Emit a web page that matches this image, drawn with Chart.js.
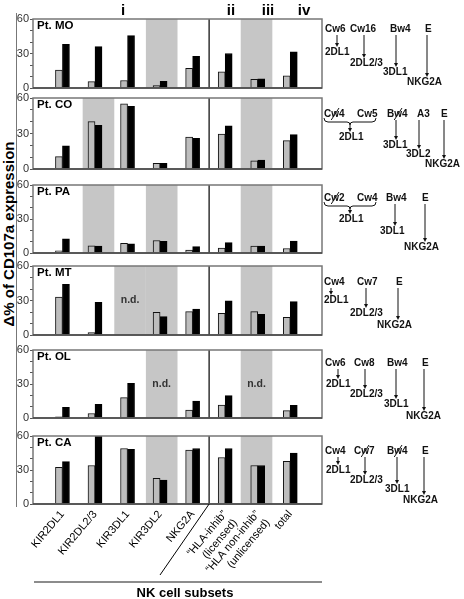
<!DOCTYPE html>
<html>
<head>
<meta charset="utf-8">
<script src="https://cdn.jsdelivr.net/npm/chart.js@4.4.1/dist/chart.umd.min.js"></script>
<style>
    html, body { margin: 0; padding: 0; background: #fff; }
    #wrap { position: relative; width: 464px; height: 599px; overflow: hidden; font-family: "Liberation Sans", Arial, sans-serif; }
    #wrap canvas { position: absolute; left: 0; }
    .grp { position: absolute; top: 1px; font-weight: bold; font-size: 15px; transform: translateX(-50%); }
    #ytitle { position: absolute; left: 8px; top: 234px; font-weight: bold; font-size: 15px; white-space: nowrap;
              transform: translate(-50%, -50%) rotate(-90deg); }
    #yline { position: absolute; left: 16px; top: 13px; width: 0; height: 494px; border-left: 1.5px solid #777; }
</style>
</head>
<body>
<div id="wrap">
    <div id="yline"></div>
    <div id="ytitle">&Delta;% of CD107a expression</div>
</div>
<script>
// NK cell subsets on the x axis
const subsets = ['KIR2DL1', 'KIR2DL2/3', 'KIR3DL1', 'KIR3DL2', 'NKG2A',
    ['\u201CHLA-inhib\u201D', '(licensed)'], ['\u201CHLA non-inhib\u201D', '(unlicensed)'], 'total'];
const patients = ['Pt. MO', 'Pt. CO', 'Pt. PA', 'Pt. MT', 'Pt. OL', 'Pt. CA'];
const groups = ['i', 'ii', 'iii', 'iv'];
const yLabels = [0, 30, 60];

// grey (open) bar and black bar per subset, null = n.d.
const moGrey  = [15.5, 5.5, 6.5, 2, 17, 14, 7.5, 10.5];
const moBlack = [38, 36, 45.5, 5.8, 27.5, 30, 8, 31.5];
const coGrey  = [10.5, 40, 55, 4.8, 27, 29.5, 6.8, 24];
const coBlack = [19.5, 37, 53, 4.8, 26, 36.5, 7.6, 29];
const paGrey  = [2, 6.4, 8.5, 11, 2.6, 4.4, 6.2, 4];
const paBlack = [12.4, 6, 8.2, 10.3, 5.6, 9.1, 6, 10.6];
const mtGrey  = [33, 2, null, 19.7, 20.3, 18.8, 20.3, 15.4];
const mtBlack = [44, 28.4, null, 16, 22.6, 29.8, 18, 29];
const olGrey  = [1, 4, 18, null, 7, 11.5, null, 6.5];
const olBlack = [9.4, 12, 30.6, null, 15, 19.7, null, 11.2];
const caGrey  = [32.4, 34, 49, 22.6, 47.6, 41, 34, 37.6];
const caBlack = [37.4, 60, 48.3, 21, 49, 49, 34, 45];

// shaded subsets per patient
const moShade = [0, 0, 0, 1, 0, 0, 1, 0];
const coShade = [0, 1, 0, 0, 0, 0, 1, 0];
const paShade = [0, 1, 0, 1, 0, 0, 1, 0];
const mtShade = [0, 0, 1, 1, 0, 0, 1, 0];
const olShade = [0, 0, 0, 1, 0, 0, 1, 0];
const caShade = [0, 0, 0, 1, 0, 0, 1, 0];

const greys = [moGrey, coGrey, paGrey, mtGrey, olGrey, caGrey];
const blacks = [moBlack, coBlack, paBlack, mtBlack, olBlack, caBlack];
const shades = [moShade, coShade, paShade, mtShade, olShade, caShade];

// ligand -> receptor notes on the right (lig: text, x, crossed; rec: text, x, dy, arrow x, from brace)
const notes = [
    { ly: 10, lig: [['Cw6', 325], ['Cw16', 350], ['Bw4', 390], ['E', 425]],
      rec: [['2DL1', 325, 33, 337], ['2DL2/3', 350, 44, 364], ['3DL1', 383, 53, 396], ['NKG2A', 407, 63, 427]] },
    { ly: 16, lig: [['Cw4', 324, 1], ['Cw5', 357], ['Bw4', 387, 1], ['A3', 417], ['E', 441]], brace: [324, 376, 24],
      rec: [['2DL1', 339, 39, 350, 1], ['3DL1', 383, 47, 396], ['3DL2', 406, 56, 419], ['NKG2A', 425, 66, 444]] },
    { ly: 13, lig: [['Cw2', 324, 1], ['Cw4', 357], ['Bw4', 386], ['E', 422]], brace: [324, 376, 21],
      rec: [['2DL1', 339, 34, 350, 1], ['3DL1', 380, 46, 395], ['NKG2A', 404, 62, 425]] },
    { ly: 16, lig: [['Cw4', 324], ['Cw7', 357], ['E', 396]],
      rec: [['2DL1', 324, 34, 331], ['2DL2/3', 350, 47, 366], ['NKG2A', 377, 59, 398]] },
    { ly: 13, lig: [['Cw6', 325], ['Cw8', 354], ['Bw4', 387], ['E', 422]],
      rec: [['2DL1', 326, 34, 338], ['2DL2/3', 350, 44, 365], ['3DL1', 384, 54, 396], ['NKG2A', 406, 66, 424]] },
    { ly: 15, lig: [['Cw4', 325], ['Cw7', 354, 1], ['Bw4', 387, 1], ['E', 422]],
      rec: [['2DL1', 326, 34, 338], ['2DL2/3', 350, 44, 365], ['3DL1', 385, 53, 397], ['NKG2A', 403, 64, 424]] }
];

const panelTop = [19, 98, 185, 266, 350, 436];
const panelH = [69, 71, 68, 69, 68, 68];
const FONT = '"Liberation Sans", Arial, sans-serif';

function drawNote(ctx, note, top) {
    ctx.save();
    ctx.font = 'bold 10px ' + FONT;
    ctx.fillStyle = '#111';
    ctx.strokeStyle = '#111';
    ctx.lineWidth = 1;
    ctx.textAlign = 'left';
    ctx.textBaseline = 'middle';
    const ly = top + note.ly;
    note.lig.forEach(([t, x, crossed]) => {
        ctx.fillText(t, x, ly);
        if (crossed) {
            const x0 = x + ctx.measureText(t[0]).width;
            const w = ctx.measureText('w').width;
            ctx.beginPath();
            ctx.moveTo(x0, ly + 6);
            ctx.lineTo(x0 + w, ly - 6);
            ctx.stroke();
        }
    });
    if (note.brace) {
        const [x1, x2, dy] = note.brace;
        const y = top + dy, m = (x1 + x2) / 2;
        ctx.beginPath();
        ctx.moveTo(x1, y - 4);
        ctx.quadraticCurveTo(x1, y, x1 + 4, y);
        ctx.lineTo(m - 3, y);
        ctx.quadraticCurveTo(m, y, m, y + 3);
        ctx.quadraticCurveTo(m, y, m + 3, y);
        ctx.lineTo(x2 - 4, y);
        ctx.quadraticCurveTo(x2, y, x2, y - 4);
        ctx.stroke();
    }
    note.rec.forEach(([t, x, dy, ax, fromBrace]) => {
        ctx.fillText(t, x, top + dy);
        const y1 = fromBrace ? top + note.brace[2] + 3 : ly + 6;
        const y2 = top + dy - 5;
        ctx.beginPath();
        ctx.moveTo(ax, y1);
        ctx.lineTo(ax, y2 - 3);
        ctx.stroke();
        ctx.beginPath();
        ctx.moveTo(ax - 2, y2 - 4);
        ctx.lineTo(ax + 2, y2 - 4);
        ctx.lineTo(ax, y2);
        ctx.closePath();
        ctx.fill();
    });
    ctx.restore();
}

const panelPlugin = {
    id: 'panel',
    beforeDatasetsDraw(chart, args, opts) {
        const {ctx, chartArea: a, scales: {x}} = chart;
        const band = (x.max - x.min) / 8;
        const edge = k => x.getPixelForValue(x.min + k * band);
        ctx.save();
        ctx.fillStyle = '#c6c6c6';
        opts.shade.forEach((s, k) => {
            if (s) ctx.fillRect(edge(k), a.top, edge(k + 1) - edge(k), a.bottom - a.top);
        });
        ctx.fillStyle = '#333';
        ctx.font = 'bold 10.5px ' + FONT;
        ctx.textAlign = 'center';
        ctx.textBaseline = 'middle';
        opts.grey.forEach((v, k) => {
            if (v === null) ctx.fillText('n.d.', (edge(k) + edge(k + 1)) / 2, (a.top + a.bottom) / 2);
        });
        ctx.strokeStyle = '#000';
        ctx.lineWidth = 1.2;
        ctx.beginPath();
        ctx.moveTo(edge(5), a.top);
        ctx.lineTo(edge(5), a.bottom);
        ctx.stroke();
        ctx.restore();
    },
    afterDraw(chart, args, opts) {
        const {ctx, chartArea: a, scales: {x}} = chart;
        ctx.save();
        ctx.strokeStyle = '#777';
        ctx.lineWidth = 1.5;
        ctx.strokeRect(a.left, a.top, a.right - a.left, a.bottom - a.top);
        ctx.strokeStyle = '#444';
        ctx.beginPath();
        ctx.moveTo(a.left, a.bottom);
        ctx.lineTo(a.right, a.bottom);
        ctx.stroke();
        ctx.fillStyle = '#000';
        ctx.font = 'bold 11.5px ' + FONT;
        ctx.textBaseline = 'middle';
        ctx.fillText(opts.name, a.left + 4, a.top + 7);
        if (opts.last) {
            const band = (x.max - x.min) / 8;
            const ex = x.getPixelForValue(x.min + 5 * band);
            ctx.strokeStyle = '#000';
            ctx.lineWidth = 1;
            ctx.beginPath();
            ctx.moveTo(ex, a.bottom);
            ctx.lineTo(160, a.bottom + 71);
            ctx.stroke();
            ctx.strokeStyle = '#666';
            ctx.lineWidth = 1.5;
            ctx.beginPath();
            ctx.moveTo(34, a.bottom + 78);
            ctx.lineTo(322, a.bottom + 78);
            ctx.stroke();
            ctx.font = 'bold 13px ' + FONT;
            ctx.textAlign = 'center';
            ctx.textBaseline = 'alphabetic';
            ctx.fillText('NK cell subsets', 185, a.bottom + 93);
        }
        ctx.restore();
        drawNote(ctx, opts.note, a.top);
    }
};

const wrap = document.getElementById('wrap');

patients.forEach(function(name, p) {
    const last = p === patients.length - 1;
    const canvas = document.createElement('canvas');
    const h = last ? 599 - (panelTop[p] - 8) : panelH[p] + 16;
    canvas.width = 464;
    canvas.height = h;
    canvas.style.top = (panelTop[p] - 8) + 'px';
    wrap.appendChild(canvas);

    new Chart(canvas, {
        type: 'bar',
        data: {
            datasets: [{
                data: greys[p].map((v, i) => ({x: i, y: v})),
                backgroundColor: '#bdbdbd',
                borderColor: '#111',
                borderWidth: 1,
                barThickness: 7
            }, {
                data: blacks[p].map((v, i) => ({x: i, y: v})),
                backgroundColor: '#000',
                borderColor: '#000',
                borderWidth: 1,
                barThickness: 7
            }]
        },
        options: {
            responsive: false,
            animation: false,
            events: [],
            layout: {
                padding: {top: 8, bottom: last ? 25 : 8, left: 0, right: 142}
            },
            plugins: {
                legend: {display: false},
                tooltip: {enabled: false},
                panel: {name: name, shade: shades[p], grey: greys[p], note: notes[p], last: last}
            },
            scales: {
                x: {
                    type: 'linear',
                    min: -0.35,
                    max: 7.42,
                    display: last,
                    afterBuildTicks: function(s) {
                        s.ticks = subsets.map((_, i) => ({value: i}));
                    },
                    afterFit: function(s) {
                        s.height = last ? 70 : 0;
                    },
                    grid: {display: false, drawTicks: false},
                    border: {display: false},
                    ticks: {
                        autoSkip: false,
                        minRotation: 50,
                        maxRotation: 50,
                        padding: 4,
                        color: '#000',
                        font: {size: 11, family: FONT},
                        callback: function(value) {
                            return subsets[value];
                        }
                    }
                },
                y: {
                    min: 0,
                    max: 60,
                    afterFit: function(s) {
                        s.width = 33;
                    },
                    grid: {drawOnChartArea: false, tickLength: 3, color: '#555'},
                    border: {display: false},
                    ticks: {
                        stepSize: 10,
                        autoSkip: false,
                        padding: 1,
                        color: '#333',
                        font: {size: 11, family: FONT},
                        callback: function(value) {
                            return yLabels.includes(value) ? value : '';
                        }
                    }
                }
            }
        },
        plugins: [panelPlugin]
    });
});

// group labels above the columns
const grpX = [123, 231, 268, 304];
groups.forEach(function(g, i) {
    const d = document.createElement('div');
    d.className = 'grp';
    d.style.left = grpX[i] + 'px';
    d.textContent = g;
    wrap.appendChild(d);
});
</script>
</body>
</html>
